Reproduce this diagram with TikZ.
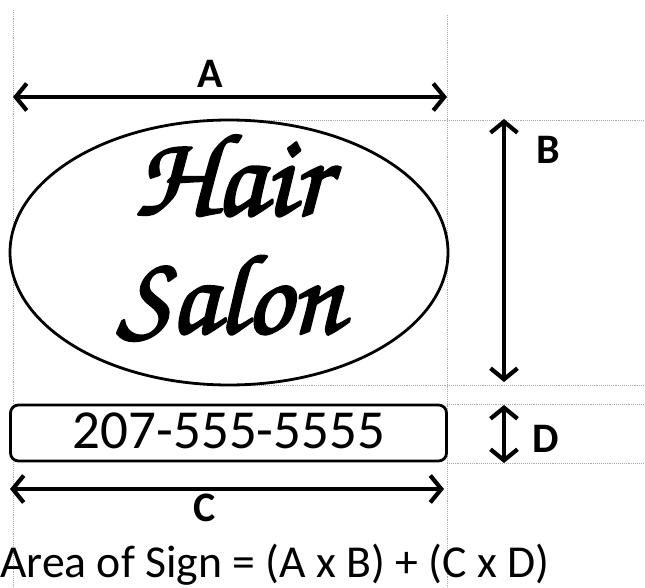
\documentclass[tikz,border=0pt]{standalone}
\usepackage[T1,TU]{fontenc}
\usepackage{fontspec}
\newfontfamily\carl{Carlito}
\newcommand\chancery{\fontencoding{T1}\fontfamily{pzc}\fontseries{mb}\fontshape{it}\selectfont}
\newcommand\heavytext[1]{\special{pdf:code 2 Tr 2.4 w 1 j}#1\special{pdf:code 0 Tr}}
\usetikzlibrary{arrows.meta,shapes.geometric}
\tikzset{
  gridline/.style={gray!65, densely dotted, line width=0.9pt},
  dimarrow/.style={line width=4.2pt, {Straight Barb[length=11pt,width=27pt]}-{Straight Barb[length=11pt,width=27pt]}},
  lbl/.style={font=\carl\bfseries\fontsize{42}{42}\selectfont, inner sep=0pt, anchor=base},
  scripttext/.style={font=\chancery\fontsize{118}{118}\selectfont, inner sep=0pt, anchor=base},
}
\begin{document}
\begin{tikzpicture}[x=1pt,y=-1pt]
\useasboundingbox (0,0) rectangle (645,588);
% grid lines
\draw[gridline] (13,10) -- (13,588);
\draw[gridline] (447,15) -- (447,588);
\draw[gridline] (225,120) -- (645,120);
\draw[gridline] (225,385) -- (645,385);
\draw[gridline] (447,404) -- (645,404);
\draw[gridline] (447,463) -- (645,463);
% sign shapes
\node[ellipse, draw, line width=2.8pt, fill=white, minimum width=438pt, minimum height=265pt, inner sep=0pt] (sign) at (229,252.5) {};
\node[scripttext] (hair) at (231,215) {\heavytext{Hair}};
\node[scripttext, font=\chancery\fontsize{114}{114}\selectfont] (salon) at (230,333) {\heavytext{Salon}};
\node[draw, line width=2.8pt, fill=white, rounded corners=8pt, minimum width=436pt, minimum height=56pt, inner sep=0pt] (phone) at (228.5,433) {};
\node[font=\carl\fontsize{55}{55}\selectfont, inner sep=0pt, anchor=base] (num) at (229,448) {207-555-5555};
% dimension coordinates
\coordinate (aL) at (13,97);
\coordinate (aR) at (447,97);
\coordinate (bT) at (504,119);
\coordinate (bB) at (504,382);
\coordinate (dT) at (504,405);
\coordinate (dB) at (504,463);
\coordinate (cL) at (10,489);
\coordinate (cR) at (444,489);
\draw[dimarrow] (aL) -- (aR);
\draw[dimarrow] (bT) -- (bB);
\draw[dimarrow] (dT) -- (dB);
\draw[dimarrow] (cL) -- (cR);
\node[lbl] (la) at (210,88) {A};
\node[lbl] (lb) at (548,164) {B};
\node[lbl] (lc) at (205,521) {C};
\node[lbl] (ld) at (546,452) {D};
\node[font=\carl\fontsize{45.7}{45.7}\selectfont, inner sep=0pt, anchor=base west] (formula) at (0,577) {Area of Sign = (A x B) + (C x D)};
\end{tikzpicture}
\end{document}
